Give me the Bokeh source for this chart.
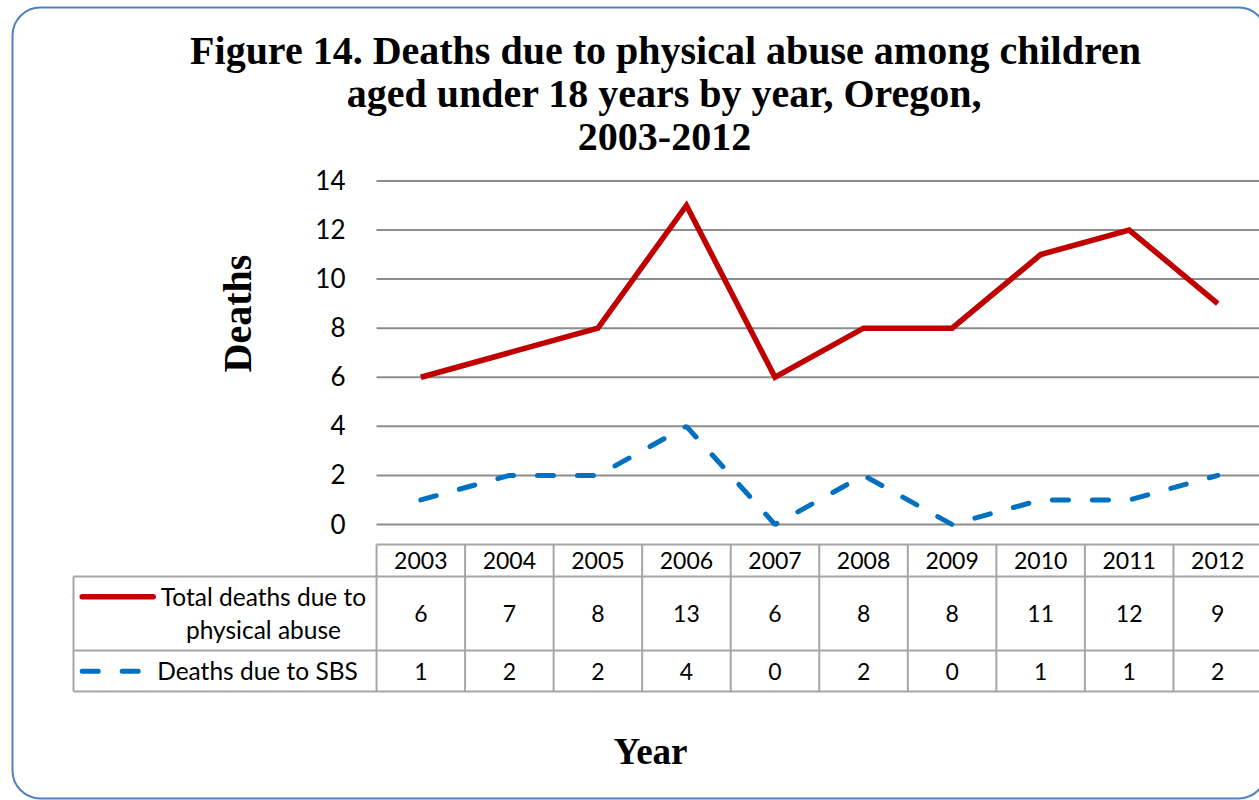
from bokeh.plotting import figure
from bokeh.models import Range1d, BoxAnnotation
from bokeh.core.properties import value
from bokeh.embed import file_html
from bokeh.resources import INLINE

# ---- data -------------------------------------------------------------
years = [2003, 2004, 2005, 2006, 2007, 2008, 2009, 2010, 2011, 2012]
total_deaths = [6, 7, 8, 13, 6, 8, 8, 11, 12, 9]
sbs_deaths = [1, 2, 2, 4, 0, 2, 0, 1, 1, 2]
y_ticks = [0, 2, 4, 6, 8, 10, 12, 14]

title_lines = [
    "Figure 14. Deaths due to physical abuse among children",
    "aged under 18 years by year, Oregon,",
    "2003-2012",
]
y_title = "Deaths"
x_title = "Year"
total_label_lines = ["Total deaths due to", "physical abuse"]
sbs_label = "Deaths due to SBS"

# ---- geometry (canvas pixels) -----------------------------------------
W, H = 1259, 800
PX_PER_YEAR = 88.55
FIRST_YEAR_PX = 420.3
ZERO_PX = 524.0
PX_PER_DEATH = 24.54

X0 = years[0] - FIRST_YEAR_PX / PX_PER_YEAR
X1 = years[0] + (W - FIRST_YEAR_PX) / PX_PER_YEAR
Y0 = -(H - ZERO_PX) / PX_PER_DEATH
Y1 = ZERO_PX / PX_PER_DEATH


def xd(px):
    """canvas x pixel -> year axis"""
    return X0 + px / PX_PER_YEAR


RED = "#C00000"
BLUE = "#0070C0"
GRID = "#8C8C8C"
TABLE = "#A6A6A6"
SERIF = value("Liberation Serif")
SANS = value("Lato")

p = figure(
    width=W, height=H,
    x_range=Range1d(X0, X1), y_range=Range1d(Y0, Y1),
    output_backend="svg", toolbar_location=None,
    min_border=0, x_axis_type=None, y_axis_type=None,
    outline_line_color=None,
)
p.extra_x_ranges = {"px": Range1d(0, W)}
p.extra_y_ranges = {"px": Range1d(H, 0)}

# rounded chart frame
p.add_layout(BoxAnnotation(
    left=12, right=1266, top=7, bottom=798,
    x_range_name="px", y_range_name="px",
    fill_alpha=0, line_color="#4F81BD", line_alpha=1.0, line_width=2,
    border_radius=28,
))

# horizontal gridlines
left_edge = years[0] - 0.5
right_edge = years[-1] + 0.5
n = len(y_ticks)
p.segment(x0=[left_edge] * n, y0=y_ticks, x1=[X1] * n, y1=y_ticks,
          line_color=GRID, line_width=2)

# y tick labels
p.text(x=[345] * n, y=y_ticks, text=[str(t) for t in y_ticks],
       x_range_name="px", text_align="right", text_baseline="middle",
       y_offset=-1, text_font=SANS, text_font_size="26px", text_color="#000000")

# series
p.line(years, total_deaths, line_color=RED, line_width=5.5, line_join="miter")
p.line(years, sbs_deaths, line_color=BLUE, line_width=5, line_dash="16 24",
       line_cap="round")

# ---- data table --------------------------------------------------------
HDR_TOP, HDR_BOT, ROW1_BOT, ROW2_BOT = 544, 576, 650, 691
TABLE_LEFT = xd(73)

p.segment(x0=[left_edge, TABLE_LEFT, TABLE_LEFT, TABLE_LEFT],
          y0=[HDR_TOP, HDR_BOT, ROW1_BOT, ROW2_BOT],
          x1=[right_edge] * 4,
          y1=[HDR_TOP, HDR_BOT, ROW1_BOT, ROW2_BOT],
          y_range_name="px", line_color=TABLE, line_width=2)
vx = [y - 0.5 for y in years] + [right_edge]
p.segment(x0=vx, y0=[HDR_TOP] * len(vx), x1=vx, y1=[ROW2_BOT] * len(vx),
          y_range_name="px", line_color=TABLE, line_width=2)
p.segment(x0=[TABLE_LEFT], y0=[HDR_BOT], x1=[TABLE_LEFT], y1=[ROW2_BOT],
          y_range_name="px", line_color=TABLE, line_width=2)

cell = dict(y_range_name="px", text_align="center", text_baseline="middle",
            text_font=SANS, text_font_size="23px", text_color="#000000")
p.text(x=years, y=[(HDR_TOP + HDR_BOT) / 2] * len(years),
       text=[str(y) for y in years], **cell)
p.text(x=years, y=[(HDR_BOT + ROW1_BOT) / 2] * len(years),
       text=[str(v) for v in total_deaths], **cell)
p.text(x=years, y=[(ROW1_BOT + ROW2_BOT) / 2] * len(years),
       text=[str(v) for v in sbs_deaths], **cell)

# legend keys inside the table
p.line(x=[81.7, 152.7], y=[596.3, 596.3], x_range_name="px", y_range_name="px",
       line_color=RED, line_width=5.5, line_cap="round")
p.line(x=[81.7, 143], y=[670.7, 670.7], x_range_name="px", y_range_name="px",
       line_color=BLUE, line_width=5, line_dash="16 24", line_cap="round")
key_text = dict(x_range_name="px", y_range_name="px", text_align="center",
                text_baseline="middle", text_font=SANS,
                text_font_size="24.5px", text_color="#000000")
p.text(x=[263, 263], y=[596, 629], text=total_label_lines, **key_text)
p.text(x=[257], y=[670], text=[sbs_label], **key_text)

# ---- titles -----------------------------------------------------------
heading = dict(x_range_name="px", y_range_name="px", text_align="center",
               text_baseline="middle", text_font=SERIF,
               text_font_style="bold", text_color="#000000")
p.text(x=[665, 664, 664], y=[50, 93, 136], text=title_lines,
       text_font_size="40px", **heading)
p.text(x=[237], y=[313], text=[y_title], angle=1.5707963,
       text_font_size="40px", **heading)
p.text(x=[650], y=[751], text=[x_title], text_font_size="37px", **heading)

open("out.html", "w").write(file_html(p, INLINE))
